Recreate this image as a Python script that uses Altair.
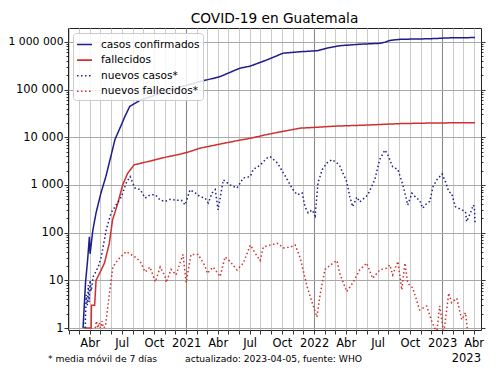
import altair as alt
import pandas as pd

# ---------------- data ----------------
casos_fechas = ["2020-03-13", "2020-03-20", "2020-03-26", "2020-03-31", "2020-04-02", "2020-04-10",
                "2020-04-19", "2020-05-03", "2020-05-17", "2020-05-31", "2020-06-12", "2020-06-30",
                "2020-07-10", "2020-07-24", "2020-08-23", "2020-09-20", "2020-10-19", "2020-12-15",
                "2021-02-10", "2021-04-08", "2021-06-03", "2021-07-03", "2021-08-20", "2021-10-05",
                "2021-11-22", "2022-01-09", "2022-02-07", "2022-03-15", "2022-05-11", "2022-07-07",
                "2022-07-22", "2022-08-05", "2022-09-03", "2022-11-27", "2023-01-20", "2023-04-05"]
casos_valores = [1, 9, 27, 82, 36, 114,
                 260, 680, 1500, 3900, 9000, 18000,
                 27000, 44000, 60000, 70000, 83000, 113000,
                 147000, 187000, 280000, 310000, 420000, 580000,
                 620000, 650000, 740000, 830000, 890000, 930000,
                 980000, 1070000, 1130000, 1160000, 1210000, 1230000]

muertes_fechas = ["2020-03-15", "2020-04-05", "2020-04-06", "2020-04-15", "2020-04-19", "2020-04-29",
                  "2020-05-13", "2020-05-27", "2020-06-05", "2020-06-20", "2020-07-04", "2020-07-18",
                  "2020-08-06", "2020-09-15", "2020-11-09", "2020-12-15", "2021-01-07", "2021-02-10",
                  "2021-04-08", "2021-06-03", "2021-07-03", "2021-08-10", "2021-09-18", "2021-11-22",
                  "2022-01-09", "2022-02-24", "2022-05-31", "2022-09-03", "2022-12-06", "2023-04-05"]
muertes_valores = [1, 1, 3, 3, 10, 14,
                   23, 60, 185, 410, 1000, 1750,
                   2650, 3100, 3900, 4400, 4900, 5900,
                   7200, 8700, 9500, 11000, 12600, 15500,
                   16200, 17000, 18000, 19300, 19900, 20200]

nuevos_casos_fechas = [
    "2020-03-19", "2020-03-22", "2020-03-25", "2020-03-28", "2020-03-30", "2020-04-02", "2020-04-05",
    "2020-04-11", "2020-04-25", "2020-05-04", "2020-05-18", "2020-06-01", "2020-06-15", "2020-06-30",
    "2020-07-14", "2020-07-25", "2020-08-08", "2020-08-23", "2020-09-06", "2020-09-20", "2020-10-05",
    "2020-10-19", "2020-11-02", "2020-11-16", "2020-12-01", "2020-12-18", "2020-12-29", "2021-01-12",
    "2021-01-27", "2021-02-10", "2021-02-24", "2021-03-05", "2021-03-16", "2021-03-25", "2021-04-02",
    "2021-04-17", "2021-05-06", "2021-05-26", "2021-06-13", "2021-07-03", "2021-07-11", "2021-07-31",
    "2021-08-20", "2021-08-29", "2021-09-18", "2021-10-05", "2021-10-25", "2021-11-02", "2021-11-14",
    "2021-11-28", "2021-12-06", "2021-12-15", "2021-12-26", "2022-01-04", "2022-01-12", "2022-01-24",
    "2022-02-07", "2022-02-21", "2022-03-07", "2022-03-15", "2022-04-04", "2022-04-13", "2022-04-21",
    "2022-05-03", "2022-05-11", "2022-05-20", "2022-06-03", "2022-06-23", "2022-07-07", "2022-07-22",
    "2022-07-30", "2022-08-13", "2022-08-28", "2022-09-11", "2022-09-17", "2022-09-25", "2022-10-07",
    "2022-10-21", "2022-10-29", "2022-11-07", "2022-11-18", "2022-11-27", "2022-12-06", "2022-12-17",
    "2023-01-01", "2023-01-12", "2023-01-20", "2023-01-28", "2023-02-08", "2023-02-26", "2023-03-09",
    "2023-03-12", "2023-03-23", "2023-03-31", "2023-04-03", "2023-04-05"]
nuevos_casos_valores = [
    1, 5, 3, 8, 3.5, 10, 6,
    12, 19, 31, 115, 260, 380, 560,
    1100, 1500, 860, 800, 530, 620, 620,
    480, 450, 500, 480, 480, 380, 790,
    680, 565, 530, 420, 680, 800, 300,
    1280, 1000, 860, 1400, 1500, 2100, 2600,
    3700, 3900, 2900, 1800, 1000, 790, 620,
    680, 350, 260, 300, 225, 1100, 2100,
    2900, 3400, 2900, 2500, 1170, 560, 350,
    560, 440, 500, 620, 1280, 3400, 5400,
    4300, 2400, 2100, 1000, 680, 380, 670,
    520, 480, 325, 410, 450, 920, 1280,
    1700, 1100, 720, 670, 350, 300, 275,
    170, 260, 380, 350, 155]

nuevas_muertes_fechas = [
    "2020-04-17", "2020-04-20", "2020-04-24", "2020-04-28", "2020-05-02", "2020-05-06", "2020-05-10",
    "2020-05-16", "2020-05-23", "2020-06-06", "2020-06-20", "2020-07-14", "2020-08-08", "2020-08-23",
    "2020-09-06", "2020-09-20", "2020-10-05", "2020-10-19", "2020-11-02", "2020-11-05", "2020-11-19",
    "2020-12-03", "2020-12-23", "2021-01-01", "2021-01-15", "2021-02-04", "2021-02-24", "2021-03-02",
    "2021-03-19", "2021-04-08", "2021-04-22", "2021-05-06", "2021-05-26", "2021-06-13", "2021-07-03",
    "2021-07-17", "2021-07-31", "2021-08-09", "2021-08-29", "2021-09-18", "2021-10-05", "2021-10-25",
    "2021-11-08", "2021-11-22", "2021-12-12", "2021-12-26", "2022-01-09", "2022-01-18", "2022-02-01",
    "2022-02-24", "2022-03-07", "2022-03-15", "2022-04-04", "2022-04-21", "2022-05-11", "2022-05-31",
    "2022-06-17", "2022-07-07", "2022-07-27", "2022-08-05", "2022-08-13", "2022-08-28", "2022-09-08",
    "2022-09-17", "2022-09-25", "2022-10-09", "2022-10-29", "2022-11-18", "2022-12-03", "2022-12-17",
    "2022-12-25", "2023-01-06", "2023-01-20", "2023-01-28", "2023-02-12", "2023-02-26", "2023-03-09",
    "2023-03-15"]
nuevas_muertes_valores = [
    1, 1.4, 1, 1.3, 1, 1.4, 1,
    1.1, 3, 19, 27, 40, 31, 25,
    15, 19, 9.3, 19, 12, 9, 17,
    13, 35, 9, 35, 35, 20, 14,
    19, 12, 31, 25, 16.5, 23, 55,
    37, 26, 50, 55, 60, 48, 50,
    55, 30, 7.4, 3.5, 1.7, 5, 17,
    23, 26, 14, 5.8, 8.8, 16.5, 23,
    11, 16.5, 18, 21, 13, 25, 6.3,
    23, 8.7, 7, 2.4, 2.9, 1.35, 0.8,
    2.9, 0.8, 5.4, 3.4, 4.2, 1.5, 2.1,
    0.8]

series = ["casos confirmados", "fallecidos", "nuevos casos*", "nuevos fallecidos*"]
colores = ["#1c1c8c", "#d0302c", "#1c1c8c", "#d0302c"]
trazos = [[1, 0], [1, 0], [1.5, 2.5], [1.5, 2.5]]

titulo = "COVID-19 en Guatemala"
nota = "* media móvil de 7 días"
fuente = "actualizado: 2023-04-05, fuente: WHO"
anio = "2023"

y_mayores = [1, 10, 100, 1000, 10000, 100000, 1000000]
y_ticks = [m * k for k in y_mayores for m in range(1, 10) if m * k <= 1900000]

# ---------------- build table ----------------
rows = []
for s, fechas, valores in zip(series,
                              [casos_fechas, muertes_fechas, nuevos_casos_fechas, nuevas_muertes_fechas],
                              [casos_valores, muertes_valores, nuevos_casos_valores, nuevas_muertes_valores]):
    for f, v in zip(fechas, valores):
        rows.append({"fecha": f, "valor": v, "serie": s})
df = pd.DataFrame(rows)


def ms(s):
    return int(pd.Timestamp(s, tz="UTC").timestamp() * 1000)


x_dom = [ms("2020-01-30"), ms("2023-04-22")]
meses = [ms(t.strftime("%Y-%m-%d")) for t in pd.date_range("2020-02-01", "2023-04-01", freq="MS")]

FONT = "DejaVu Sans"
major_test = "indexof([1,10,100,1000,10000,100000,1000000], datum.value) >= 0"

x_enc = alt.X(
    "fecha:T",
    scale=alt.Scale(type="utc", domain=x_dom),
    axis=alt.Axis(
        orient="bottom",
        values=meses,
        labelExpr=("utcmonth(datum.value) == 0 ? '' + utcyear(datum.value) : "
                   "utcmonth(datum.value) == 3 ? 'Abr' : utcmonth(datum.value) == 6 ? 'Jul' : "
                   "utcmonth(datum.value) == 9 ? 'Oct' : ''"),
        title=None, domain=False, tickSize=4, tickColor="black", tickWidth=0.8,
        labelFontSize=11.5, labelFont=FONT, labelColor="black", labelPadding=3,
        labelOverlap=False, labelFlush=False,
        grid=True,
        gridColor={"condition": {"test": "utcmonth(datum.value) == 0", "value": "#8c8c8c"},
                   "value": "#c4c4c4"},
        gridWidth={"condition": {"test": "utcmonth(datum.value) == 0", "value": 1.1},
                   "value": 0.9},
    ),
)

y_scale = alt.Scale(type="log", domain=[0.91, 1950000])

y_left = alt.Y(
    "valor:Q", scale=y_scale,
    axis=alt.Axis(
        values=y_ticks, orient="left", title=None, domain=False,
        labelExpr=f"{major_test} ? replace(replace(format(datum.value, ','), ',', ' '), ',', ' ') : ''",
        labelFont=FONT, labelColor="black", labelPadding=1,
        labelFontSize={"condition": {"test": "datum.value == 1000000", "value": 10.8}, "value": 11.5},
        labelOverlap=False, labelFlush=False,
        tickColor="black", tickWidth=0.8,
        tickSize={"condition": {"test": major_test, "value": 4}, "value": 2},
        grid=True, gridColor="#a8a8a8", gridWidth=1,
        gridOpacity={"condition": {"test": major_test, "value": 1}, "value": 0},
    ),
)

y_right = alt.Y(
    "valor:Q", scale=y_scale,
    axis=alt.Axis(
        values=y_ticks, orient="right", title=None, domain=False, labels=False, grid=False,
        tickColor="black", tickWidth=0.8,
        tickSize={"condition": {"test": major_test, "value": 4}, "value": 2},
    ),
)

leyenda = alt.Legend(
    title=None, orient="top-left", offset=5, padding=3,
    fillColor="rgba(255,255,255,0.85)", strokeColor="#cccccc", cornerRadius=3,
    labelFont=FONT, labelFontSize=10.6, labelColor="black", labelOffset=8,
    symbolType="stroke", symbolSize=225, symbolStrokeWidth=1.6, rowPadding=0.6,
)

lineas = alt.Chart(df).mark_line(strokeWidth=1.5, clip=True).encode(
    x=x_enc,
    y=y_left,
    color=alt.Color("serie:N", scale=alt.Scale(domain=series, range=colores), legend=leyenda),
    strokeDash=alt.StrokeDash("serie:N", scale=alt.Scale(domain=series, range=trazos), legend=leyenda),
)

derecha = alt.Chart(df).mark_line(opacity=0, clip=True).encode(
    x=x_enc,
    y=y_right,
    detail="serie:N",
)

t_titulo = alt.Chart(pd.DataFrame({"t": [titulo]})).mark_text(
    align="center", baseline="alphabetic", font=FONT, fontSize=13.7, color="black"
).encode(text="t:N", x=alt.value(206.5), y=alt.value(-5))

t_nota = alt.Chart(pd.DataFrame({"t": [nota]})).mark_text(
    align="left", baseline="middle", font=FONT, fontSize=9.2, color="black"
).encode(text="t:N", x=alt.value(-20), y=alt.value(331))

t_fuente = alt.Chart(pd.DataFrame({"t": [fuente]})).mark_text(
    align="left", baseline="middle", font=FONT, fontSize=9.2, color="black"
).encode(text="t:N", x=alt.value(117), y=alt.value(331))

t_anio = alt.Chart(pd.DataFrame({"t": [anio]})).mark_text(
    align="right", baseline="middle", font=FONT, fontSize=11.5, color="black"
).encode(text="t:N", x=alt.value(413), y=alt.value(331))

chart = alt.layer(lineas, derecha, t_titulo, t_nota, t_fuente, t_anio).resolve_scale(
    y="independent"
).properties(
    width=413, height=302,
    padding={"left": 60, "top": 20, "right": 11, "bottom": 37},
    autosize=alt.AutoSizeParams(type="none"),
).configure_view(stroke="#222222", strokeWidth=1)

chart.save("out.html", embed_options={"renderer": "svg", "actions": False})
